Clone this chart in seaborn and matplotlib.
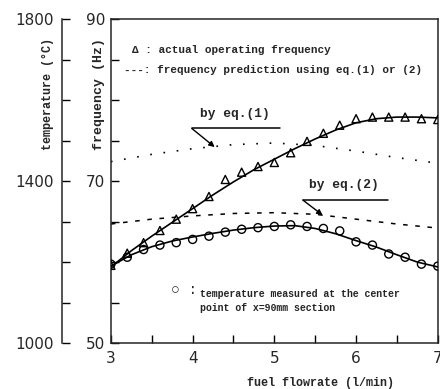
import numpy as np
import pandas as pd
import seaborn as sns
import matplotlib.pyplot as plt
from matplotlib.ticker import MultipleLocator, FixedLocator

# measured points
flow_pts = [3.0, 3.2, 3.4, 3.6, 3.8, 4.0, 4.2, 4.4, 4.6, 4.8, 5.0,
            5.2, 5.4, 5.6, 5.8, 6.0, 6.2, 6.4, 6.6, 6.8, 7.0]
freq_pts = [59.6, 61.1, 62.4, 63.9, 65.3, 66.6, 68.1, 70.2, 71.1, 71.8, 72.3,
            73.5, 74.9, 75.9, 76.9, 77.7, 77.9, 77.9, 77.9, 77.7, 77.6]
temp_pts = [1195, 1212, 1231, 1242, 1248, 1256, 1264, 1274, 1281, 1285, 1288,
            1292, 1288, 1283, 1277, 1250, 1242, 1220, 1212, 1195, 1190]

# fitted curves
flow_fit = [3.0, 3.25, 3.5, 3.75, 4.0, 4.25, 4.5, 4.75, 5.0,
            5.25, 5.5, 5.75, 6.0, 6.25, 6.5, 6.75, 7.0]
freq_fit = [59.4, 61.4, 63.2, 64.9, 66.6, 68.3, 69.9, 71.4, 72.7,
            74.0, 75.2, 76.3, 77.2, 77.7, 77.9, 77.9, 77.8]
temp_fit = [1190, 1218, 1238, 1252, 1262, 1271, 1279, 1285, 1289,
            1290, 1283, 1270, 1253, 1237, 1218, 1200, 1188]

# predictions
flow_pred = [3.0, 3.5, 4.0, 4.5, 5.0, 5.5, 6.0, 6.5, 7.0]
freq_eq1 = [72.4, 73.3, 74.0, 74.5, 74.7, 74.4, 73.7, 72.9, 72.2]
freq_eq2 = [64.7, 65.3, 65.7, 66.0, 66.1, 65.9, 65.3, 64.7, 64.2]

pts = pd.DataFrame({'flow': flow_pts, 'freq': freq_pts, 'temp': temp_pts})
fit = pd.DataFrame({'flow': flow_fit, 'freq': freq_fit, 'temp': temp_fit})
pred = pd.DataFrame({'flow': flow_pred, 'eq1': freq_eq1, 'eq2': freq_eq2})

sns.set_style('ticks')
plt.rcParams['font.family'] = ['DejaVu Sans']
mono = ['Liberation Mono', 'DejaVu Sans']

fig = plt.figure(figsize=(4.4, 3.89), dpi=100)
ax = fig.add_axes([0.252, 0.118, 0.743, 0.833])
ax2 = ax.twinx()

# frequency
sns.lineplot(data=pred, x='flow', y='eq1', ax=ax, color='black', lw=1.2,
             linestyle=(0, (1, 7)))
sns.lineplot(data=pred, x='flow', y='eq2', ax=ax, color='black', lw=1.1,
             linestyle=(0, (3, 5)))
sns.lineplot(data=fit, x='flow', y='freq', ax=ax, color='black', lw=1.2)
sns.scatterplot(data=pts, x='flow', y='freq', ax=ax, marker='^', s=34,
                facecolor='none', edgecolor='black', linewidth=1.0, zorder=3)

# temperature
sns.lineplot(data=fit, x='flow', y='temp', ax=ax2, color='black', lw=1.2)
sns.scatterplot(data=pts, x='flow', y='temp', ax=ax2, marker='o', s=34,
                facecolor='none', edgecolor='black', linewidth=1.0, zorder=3)

ax.set_xlim(3, 7)
ax.set_ylim(50, 90)
ax2.set_ylim(1000, 1800)

ax.xaxis.set_major_locator(FixedLocator([3, 4, 5, 6, 7]))
ax.xaxis.set_minor_locator(MultipleLocator(0.5))
ax.yaxis.set_major_locator(FixedLocator([50, 70, 90]))
ax.yaxis.set_minor_locator(MultipleLocator(5))
ax2.yaxis.set_major_locator(FixedLocator([1000, 1400, 1800]))
ax2.yaxis.set_minor_locator(MultipleLocator(100))

for a in (ax, ax2):
    a.tick_params(which='both', direction='in', length=6, width=1,
                  labelsize=11, color='black')
ax.tick_params(axis='x', pad=6, top=False)
ax.tick_params(axis='y', right=False, pad=4)
ax.tick_params(axis='x', which='minor', top=False)
ax.tick_params(axis='y', which='minor', right=False)

for sp in ax.spines.values():
    sp.set_visible(True)
    sp.set_linewidth(1.1)
ax2.spines[['right', 'top', 'bottom']].set_visible(False)
ax2.spines['left'].set_visible(True)
ax2.spines['left'].set_linewidth(1.1)
ax2.spines['left'].set_position(('outward', 35.3))
ax2.yaxis.tick_left()
ax2.yaxis.set_label_position('left')
ax2.tick_params(axis='y', which='both', right=False, pad=6)

ax.set_xlabel('fuel flowrate (l/min)', family=mono, weight='bold', fontsize=8.5)
ax.xaxis.set_label_coords(0.64, -0.105)
ax.set_ylabel('frequency (Hz)', family=mono, weight='bold', fontsize=9.5)
ax.yaxis.set_label_coords(-0.019, 0.77)
ax2.set_ylabel('temperature (°C)', family=mono, weight='bold', fontsize=8.5)
ax2.yaxis.set_label_coords(-0.173, 0.77)

# annotations
ax.text(3.26, 86.2, 'Δ : actual operating frequency', family=mono,
        weight='bold', fontsize=7.9, va='center')
ax.text(3.16, 83.7, '---: frequency prediction using eq.(1) or (2)',
        family=mono, weight='bold', fontsize=7.9, va='center')
ax.text(3.73, 56.5, '○ :', family=mono, fontsize=10.5, va='center')
ax.text(4.09, 56.05, 'temperature measured at the center', family=mono,
        weight='bold', fontsize=7.1, va='center')
ax.text(4.09, 54.3, 'point of x=90mm section', family=mono,
        weight='bold', fontsize=7.1, va='center')

ax.text(4.09, 77.6, 'by eq.(1)', family=mono, weight='bold', fontsize=9.3,
        va='bottom')
ax.plot([3.99, 5.07], [76.5, 76.5], color='black', lw=1.1)
ax.annotate('', xy=(4.27, 74.2), xytext=(3.99, 76.5),
            arrowprops=dict(arrowstyle='-|>', color='black', lw=1,
                            mutation_scale=8, shrinkA=0, shrinkB=0))
ax.text(5.43, 68.8, 'by eq.(2)', family=mono, weight='bold', fontsize=9.3,
        va='bottom')
ax.plot([5.35, 6.39], [67.65, 67.65], color='black', lw=1.1)
ax.annotate('', xy=(5.59, 65.8), xytext=(5.35, 67.65),
            arrowprops=dict(arrowstyle='-|>', color='black', lw=1,
                            mutation_scale=8, shrinkA=0, shrinkB=0))

fig.savefig('out.png', dpi=100)
